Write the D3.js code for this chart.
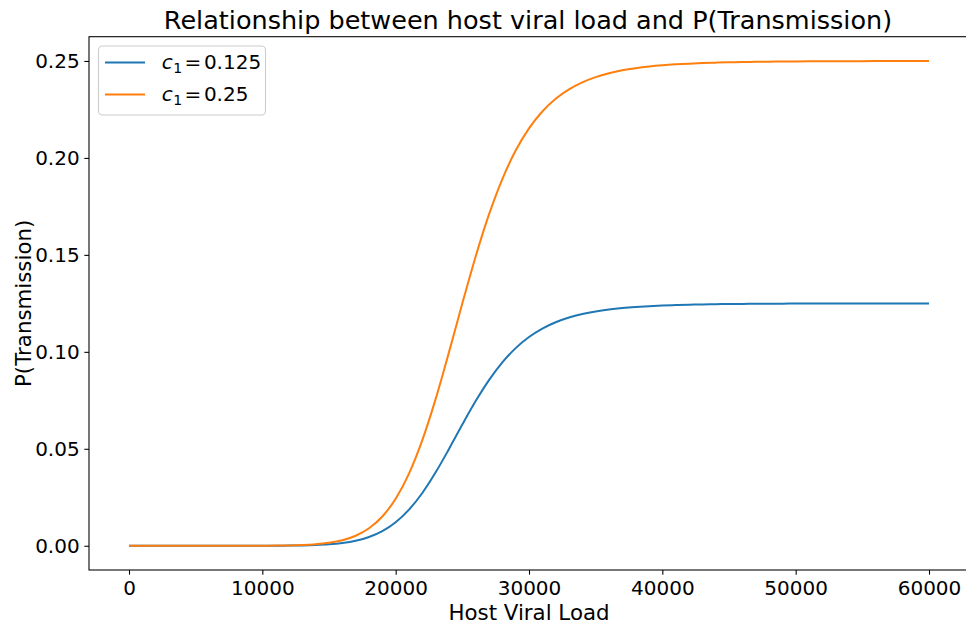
<!DOCTYPE html>
<html>
<head>
<meta charset="utf-8">
<script src="https://cdn.jsdelivr.net/npm/d3@7"></script>
<style>
  html, body { margin: 0; padding: 0; background: #fff; }
  svg { display: block; font-family: "DejaVu Sans", sans-serif; }
</style>
</head>
<body>
<svg id="chart" width="966" height="630"></svg>
<script>
// ---- Data ----
const viralLoad = [0, 5000, 10000, 11000, 12000, 13000, 14000, 15000, 16000, 17000, 18000, 19000,
  20000, 21000, 22000, 23000, 24000, 25000, 26000, 27000, 28000, 29000, 30000, 31000, 32000,
  33000, 34000, 35000, 36000, 37000, 38000, 39000, 40000, 41000, 42000, 43000, 44000, 45000,
  46000, 47000, 48000, 49000, 50000, 52000, 54000, 56000, 58000, 60000];

const pTransHigh = [0, 0, 0.00003, 0.00007, 0.00016, 0.00036, 0.00076, 0.0015, 0.00285, 0.00518,
  0.00903, 0.0151, 0.02425, 0.03723, 0.05445, 0.07573, 0.09985, 0.125, 0.1492, 0.17085, 0.1891,
  0.2038, 0.21525, 0.22395, 0.23048, 0.23535, 0.23895, 0.24165, 0.24365, 0.24515, 0.24625,
  0.2471, 0.24775, 0.24823, 0.2486, 0.2489, 0.24913, 0.2493, 0.24945, 0.24955, 0.24963, 0.2497,
  0.24975, 0.24983, 0.24988, 0.24993, 0.24995, 0.24995];

const pTransLow = [0, 0, 0.000015, 0.000035, 0.00008, 0.00018, 0.00038, 0.00075, 0.001425, 0.00259,
  0.004515, 0.00755, 0.012125, 0.018615, 0.027225, 0.037865, 0.049925, 0.0625, 0.0746, 0.085425,
  0.09455, 0.1019, 0.107625, 0.111975, 0.11524, 0.117675, 0.119475, 0.120825, 0.121825, 0.122575,
  0.123125, 0.12355, 0.123875, 0.124115, 0.1243, 0.12445, 0.124565, 0.12465, 0.124725, 0.124775,
  0.124815, 0.12485, 0.124875, 0.124915, 0.12494, 0.124965, 0.124975, 0.124975];

const seriesLabels = ["0.125", "0.25"];
const xTicks = [0, 10000, 20000, 30000, 40000, 50000, 60000];
const yTicks = [0.00, 0.05, 0.10, 0.15, 0.20, 0.25];
const titleText = "Relationship between host viral load and P(Transmission)";
const xLabelText = "Host Viral Load";
const yLabelText = "P(Transmission)";

(function () {
// ---- Layout ----
const svg = d3.select("#chart");
const W = 966, H = 630;
const mL = 89, mR = 969, mT = 36.7, mB = 570;
const colors = ["#1f77b4", "#ff7f0e"];

svg.append("rect").attr("width", W).attr("height", H).attr("fill", "#fff");

const x = d3.scaleLinear().domain([-3000, 63000]).range([mL, mR]);
const y = d3.scaleLinear().domain([-0.0125, 0.2625]).range([mB, mT]);

const series = [
  { label: seriesLabels[0], values: pTransLow, color: colors[0] },
  { label: seriesLabels[1], values: pTransHigh, color: colors[1] }
];

// lines
const line = d3.line()
  .x((d, i) => x(viralLoad[i]))
  .y(d => y(d))
  .curve(d3.curveMonotoneX);

const plot = svg.append("g");
series.forEach(s => {
  plot.append("path")
    .datum(s.values)
    .attr("d", line)
    .attr("fill", "none")
    .attr("stroke", s.color)
    .attr("stroke-width", 2)
    .attr("stroke-linejoin", "round")
    .attr("stroke-linecap", "butt");
});

// axes
const xAxis = d3.axisBottom(x).tickValues(xTicks).tickFormat(d3.format("d"))
  .tickSizeInner(4.67).tickSizeOuter(0).tickPadding(4.67);
const yAxis = d3.axisLeft(y).tickValues(yTicks).tickFormat(d3.format(".2f"))
  .tickSizeInner(4.67).tickSizeOuter(0).tickPadding(4.67);

const gx = svg.append("g").attr("transform", `translate(0,${mB})`).call(xAxis);
const gy = svg.append("g").attr("transform", `translate(${mL},0)`).call(yAxis);

[gx, gy].forEach(g => {
  g.select(".domain").remove();
  g.selectAll(".tick line").attr("stroke", "#000").attr("stroke-width", 1.07);
  g.selectAll(".tick text").attr("fill", "#000")
    .style("font-family", "DejaVu Sans").style("font-size", "20px");
});
gx.selectAll(".tick text").attr("dy", null).attr("y", 24.5);
gy.selectAll(".tick text").attr("dy", "0.35em");

// spines (full box)
svg.append("rect")
  .attr("x", mL).attr("y", mT)
  .attr("width", mR - mL).attr("height", mB - mT)
  .attr("fill", "none").attr("stroke", "#000").attr("stroke-width", 1.07);

// title and labels
svg.append("text")
  .attr("x", (mL + mR) / 2 - 1).attr("y", 28.7)
  .attr("text-anchor", "middle")
  .style("font-size", "25.5px").attr("fill", "#000")
  .text(titleText);

svg.append("text")
  .attr("x", (mL + mR) / 2).attr("y", 620)
  .attr("text-anchor", "middle")
  .style("font-size", "21.33px").attr("fill", "#000")
  .text(xLabelText);

svg.append("text")
  .attr("transform", `translate(30.5,${(mT + mB) / 2}) rotate(-90)`)
  .attr("text-anchor", "middle")
  .style("font-size", "21.33px").attr("fill", "#000")
  .text(yLabelText);

// legend
const lg = svg.append("g");
lg.append("rect")
  .attr("x", 98.5).attr("y", 46).attr("width", 167).attr("height", 69)
  .attr("rx", 4).attr("ry", 4)
  .attr("fill", "#fff").attr("fill-opacity", 0.8)
  .attr("stroke", "#cccccc").attr("stroke-width", 1.07);

series.forEach((s, i) => {
  const cy = 62.5 + i * 32;
  lg.append("line")
    .attr("x1", 105).attr("x2", 145)
    .attr("y1", cy).attr("y2", cy)
    .attr("stroke", s.color).attr("stroke-width", 2);
  const t = lg.append("text")
    .attr("x", 161.7).attr("y", cy + 6.5)
    .style("font-size", "20px").attr("fill", "#000");
  t.append("tspan").style("font-style", "italic").text("c");
  t.append("tspan").style("font-size", "14px").attr("dy", 3.5).attr("dx", 0.5).text("1");
  t.append("tspan").attr("dy", -3.5).attr("dx", 2.5).text("=");
  t.append("tspan").attr("dx", 2.5).text(s.label);
});
})();
</script>
</body>
</html>
